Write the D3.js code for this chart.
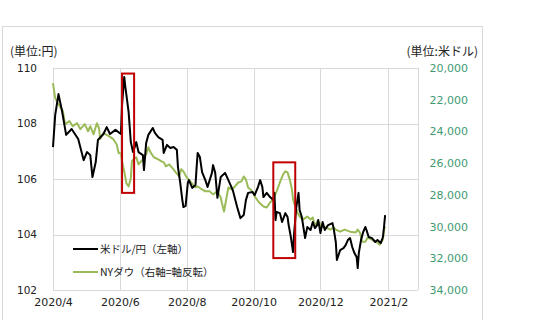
<!DOCTYPE html>
<html>
<head>
<meta charset="utf-8">
<script src="https://cdn.jsdelivr.net/npm/d3@7"></script>
<style>
  body { margin: 0; background: #fff; }
  text { font-family: "DejaVu Sans", Verdana, sans-serif; }
  .jp { font-family: "Noto Sans CJK JP", sans-serif; }
</style>
</head>
<body>
<svg id="chart" width="540" height="320"></svg>
<script>
// USD/JPY (left axis)
var yenDates = [
  '2020-04-01','2020-04-03','2020-04-06','2020-04-09','2020-04-13','2020-04-18','2020-04-24','2020-04-29',
  '2020-05-02','2020-05-05','2020-05-07','2020-05-10','2020-05-12','2020-05-17','2020-05-20','2020-05-23','2020-05-28',
  '2020-06-02','2020-06-03','2020-06-05','2020-06-06','2020-06-09','2020-06-11','2020-06-13','2020-06-16','2020-06-18',
  '2020-06-22','2020-06-23','2020-06-25','2020-06-27',
  '2020-07-01','2020-07-03','2020-07-06','2020-07-10','2020-07-11','2020-07-14','2020-07-17','2020-07-20','2020-07-23',
  '2020-07-24','2020-07-26','2020-07-28','2020-07-29','2020-07-31',
  '2020-08-02','2020-08-03','2020-08-06','2020-08-09','2020-08-10','2020-08-11','2020-08-13','2020-08-15','2020-08-18',
  '2020-08-20','2020-08-24','2020-08-25','2020-08-27','2020-08-29',
  '2020-09-01','2020-09-05','2020-09-08','2020-09-12','2020-09-16','2020-09-19','2020-09-22','2020-09-24','2020-09-26','2020-09-30',
  '2020-10-02','2020-10-05','2020-10-07','2020-10-09','2020-10-10','2020-10-13','2020-10-16','2020-10-19','2020-10-20',
  '2020-10-21','2020-10-22','2020-10-25','2020-10-27','2020-10-30',
  '2020-11-01','2020-11-02','2020-11-04','2020-11-06','2020-11-07','2020-11-09','2020-11-11','2020-11-12','2020-11-14',
  '2020-11-17','2020-11-19','2020-11-22','2020-11-24','2020-11-26','2020-11-28','2020-11-29',
  '2020-12-01','2020-12-03','2020-12-05','2020-12-08','2020-12-12','2020-12-13','2020-12-15','2020-12-16','2020-12-19',
  '2020-12-22','2020-12-24','2020-12-26','2020-12-28','2020-12-30',
  '2021-01-01','2021-01-03','2021-01-04','2021-01-05','2021-01-07','2021-01-09','2021-01-11','2021-01-12','2021-01-14',
  '2021-01-17','2021-01-20','2021-01-22','2021-01-25','2021-01-27','2021-01-28','2021-01-29'
];
var yenValues = [
  107.15,108.3,109.06,108.5,107.59,107.8,107.44,106.68,
  106.97,106.86,106.07,106.61,107.41,107.62,107.87,107.62,107.77,
  107.62,108.67,109.68,109.32,108.41,107.33,106.97,107.33,106.97,
  106.86,106.32,107.3,107.59,
  107.84,107.66,107.51,107.41,106.94,107.23,107.12,107.15,107.05,
  106.43,105.89,105.24,104.99,105.03,
  105.86,105.96,105.68,105.78,106.4,106.94,106.79,106.25,105.96,
  105.71,106.22,106.5,106.22,105.32,
  106.07,106.22,105.96,105.6,104.99,104.59,104.7,105.24,105.5,105.53,
  105.42,105.71,105.96,105.71,105.35,105.5,105.35,105.24,105.5,
  104.52,104.81,104.77,104.45,104.77,
  104.63,104.34,103.91,103.37,104.05,104.99,105.5,104.88,104.63,
  103.87,104.27,104.16,104.45,104.23,104.34,104.52,
  104.05,104.45,104.16,104.34,104.41,104.23,103.73,103.08,103.44,
  103.51,103.62,103.8,103.87,103.55,
  103.33,103.19,102.79,103.33,103.8,104.09,104.27,104.16,103.91,
  103.87,103.73,103.8,103.69,103.91,104.27,104.7
];

// NY Dow (right axis, reversed)
var dowDates = [
  '2020-04-01','2020-04-03','2020-04-06','2020-04-10','2020-04-12','2020-04-16','2020-04-19','2020-04-23','2020-04-26','2020-04-30',
  '2020-05-03','2020-05-05','2020-05-08','2020-05-11','2020-05-13','2020-05-14','2020-05-17','2020-05-22','2020-05-26','2020-05-29','2020-05-31',
  '2020-06-02','2020-06-03','2020-06-05','2020-06-07','2020-06-09','2020-06-11','2020-06-12','2020-06-14','2020-06-16','2020-06-18',
  '2020-06-22','2020-06-25','2020-06-27','2020-06-29',
  '2020-07-02','2020-07-06','2020-07-09','2020-07-11','2020-07-13','2020-07-16','2020-07-20','2020-07-22','2020-07-25','2020-07-27','2020-07-29',
  '2020-08-01','2020-08-05','2020-08-09','2020-08-11','2020-08-15','2020-08-18','2020-08-22','2020-08-25','2020-08-29',
  '2020-09-01','2020-09-02','2020-09-04','2020-09-08','2020-09-11','2020-09-14','2020-09-17','2020-09-20','2020-09-22','2020-09-24','2020-09-26','2020-09-30',
  '2020-10-02','2020-10-06','2020-10-10','2020-10-13','2020-10-16','2020-10-19','2020-10-22','2020-10-25','2020-10-28','2020-10-30',
  '2020-11-01','2020-11-03','2020-11-05','2020-11-06','2020-11-08','2020-11-10','2020-11-12','2020-11-15','2020-11-19','2020-11-22',
  '2020-11-24','2020-11-26','2020-11-28','2020-11-30',
  '2020-12-02','2020-12-06','2020-12-10','2020-12-13','2020-12-15','2020-12-19','2020-12-23','2020-12-28',
  '2021-01-02','2021-01-04','2021-01-06','2021-01-08','2021-01-11','2021-01-13','2021-01-17','2021-01-20','2021-01-22','2021-01-24',
  '2021-01-27','2021-01-28','2021-01-29'
];
var dowValues = [
  20950,21900,22280,22720,23540,23350,23670,23480,23860,23540,
  23990,23670,24180,23480,23800,24490,24110,24300,24490,24810,25380,
  25380,25890,26520,27280,27470,26960,25890,25700,25630,26080,
  25760,25440,25000,25320,
  25630,25760,25890,25950,26200,26080,26390,26580,26840,26390,26520,
  26900,27220,27530,27470,27660,27780,27780,27970,27780,
  28160,28480,29050,27530,27660,27470,27220,27150,26840,27030,27530,27780,
  28100,28480,28730,28800,28480,28290,27780,27220,26710,26520,
  26580,27030,27660,28290,28730,29110,29370,29560,29370,29560,
  29430,30000,29680,29750,
  30000,30060,30190,30060,30190,30320,30190,30320,
  30380,30190,30380,30950,30950,30700,30820,30950,31010,31140,
  30820,30190,30000
];

var leftTicks = [102, 104, 106, 108, 110];
var rightTicks = [20000, 22000, 24000, 26000, 28000, 30000, 32000, 34000];
var monthTicks = ['2020-04-01','2020-06-01','2020-08-01','2020-10-01','2020-12-01','2021-02-01'];
var legendLabels = ['米ドル/円（左軸）', 'NYダウ（右軸=軸反転）'];

// highlighted periods (red boxes): dates and yen range
var boxStart = ['2020-06-03', '2020-10-19'];
var boxEnd = ['2020-06-14', '2020-11-08'];
var boxHigh = [109.8, 106.6];
var boxLow = [105.5, 103.15];

var parse = d3.utcParse('%Y-%m-%d');
var svg = d3.select('#chart');

var plotL = 53, plotR = 418, plotT = 68, plotB = 290;

var x = d3.scaleUtc().domain([parse('2020-04-01'), parse('2021-02-28')]).range([plotL, plotR]);
var yL = d3.scaleLinear().domain([102, 110]).range([plotB, plotT]);
var yR = d3.scaleLinear().domain([20000, 34000]).range([plotT, plotB]);

// outer frame
svg.append('rect').attr('x', 2.5).attr('y', 26.5).attr('width', 480).attr('height', 310)
  .attr('fill', 'none').attr('stroke', '#d9d9d9');

// grid
var grid = svg.append('g').attr('stroke', '#d9d9d9').attr('stroke-width', 1);
grid.selectAll('.h').data(leftTicks).enter().append('line')
  .attr('x1', plotL).attr('x2', plotR)
  .attr('y1', function (d) { return Math.round(yL(d)) + 0.5; })
  .attr('y2', function (d) { return Math.round(yL(d)) + 0.5; });
grid.selectAll('.v').data(monthTicks).enter().append('line')
  .attr('y1', plotT).attr('y2', plotB)
  .attr('x1', function (d) { return Math.round(x(parse(d))) + 0.5; })
  .attr('x2', function (d) { return Math.round(x(parse(d))) + 0.5; });
grid.append('line').attr('x1', plotR + 0.5).attr('x2', plotR + 0.5).attr('y1', plotT).attr('y2', plotB);

// axes
var xAxis = d3.axisBottom(x).tickValues(monthTicks.map(parse)).tickSize(0).tickPadding(8)
  .tickFormat(d3.utcFormat('%Y/%-m'));
var gx = svg.append('g').attr('transform', 'translate(0,' + plotB + ')').call(xAxis);
gx.select('.domain').remove();
gx.selectAll('text').attr('font-size', 11).attr('fill', '#222')
  .style('font-family', '"DejaVu Sans", sans-serif');

var gl = svg.append('g').attr('transform', 'translate(' + plotL + ',0)')
  .call(d3.axisLeft(yL).tickValues(leftTicks).tickSize(0).tickPadding(16));
gl.select('.domain').remove();
gl.selectAll('text').attr('font-size', 10.5).attr('fill', '#222')
  .style('font-family', '"DejaVu Sans", sans-serif');

var gr = svg.append('g').attr('transform', 'translate(468,0)')
  .call(d3.axisLeft(yR).tickValues(rightTicks).tickSize(0).tickPadding(0).tickFormat(d3.format(',')));
gr.select('.domain').remove();
gr.selectAll('text').attr('font-size', 11).attr('fill', '#3f9a72')
  .style('font-family', '"DejaVu Sans", sans-serif');

// unit labels
svg.append('text').attr('class', 'jp').attr('x', 10).attr('y', 56).attr('font-size', 12)
  .attr('fill', '#222').text('(単位:円)');
svg.append('text').attr('class', 'jp').attr('x', 478).attr('y', 56).attr('font-size', 12)
  .attr('text-anchor', 'end').attr('fill', '#222').text('(単位:米ドル)');

// lines
var dowLine = d3.line()
  .x(function (d, i) { return x(parse(dowDates[i])); })
  .y(function (d) { return yR(d); });
var yenLine = d3.line()
  .x(function (d, i) { return x(parse(yenDates[i])); })
  .y(function (d) { return yL(d); });

svg.append('path').datum(dowValues).attr('d', dowLine)
  .attr('fill', 'none').attr('stroke', '#9bbb59').attr('stroke-width', 2).attr('stroke-linejoin', 'round');
svg.append('path').datum(yenValues).attr('d', yenLine)
  .attr('fill', 'none').attr('stroke', '#000').attr('stroke-width', 2).attr('stroke-linejoin', 'round');

// red boxes
svg.selectAll('.box').data(boxStart).enter().append('rect')
  .attr('x', function (d) { return x(parse(d)); })
  .attr('y', function (d, i) { return yL(boxHigh[i]); })
  .attr('width', function (d, i) { return x(parse(boxEnd[i])) - x(parse(d)); })
  .attr('height', function (d, i) { return yL(boxLow[i]) - yL(boxHigh[i]); })
  .attr('fill', 'none').attr('stroke', '#c00000').attr('stroke-width', 2);

// legend
var legendColors = ['#000', '#9bbb59'];
var lg = svg.append('g');
legendLabels.forEach(function (label, i) {
  var ly = 249 + i * 23;
  lg.append('line').attr('x1', 73).attr('x2', 98).attr('y1', ly).attr('y2', ly)
    .attr('stroke', legendColors[i]).attr('stroke-width', 2);
  lg.append('text').attr('class', 'jp').attr('x', 100).attr('y', ly + 4).attr('font-size', 10.5)
    .attr('fill', '#222').text(label);
});
</script>
</body>
</html>
